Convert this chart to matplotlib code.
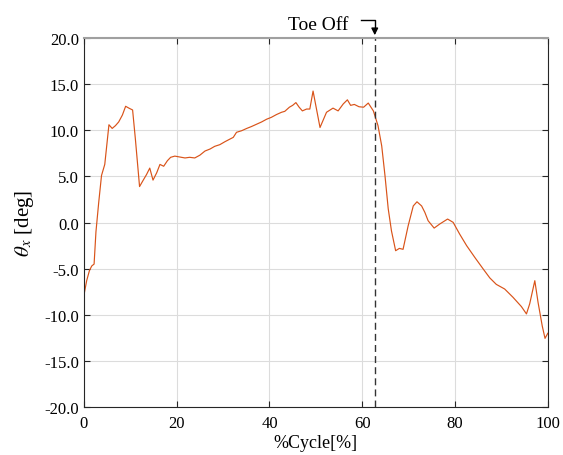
import matplotlib
matplotlib.use('Agg')
import matplotlib.pyplot as plt
import numpy as np

plt.rcParams['font.family'] = ['Liberation Serif', 'DejaVu Serif']
plt.rcParams['mathtext.fontset'] = 'stix'

# gait cycle [%] and angle [deg]
cycle = [0.0, 0.6, 1.2, 1.7, 2.2, 2.6, 3.2, 3.8, 4.5, 5.4, 6.1, 6.8, 7.5, 8.3, 9.0, 9.7,
         10.5, 11.1, 12.0, 12.8, 13.5, 14.2, 14.9, 15.7, 16.4, 17.2, 18.0, 18.7, 19.6,
         20.7, 21.8, 22.8, 23.9, 25.0, 26.1, 27.2, 28.2, 29.3, 30.4, 31.5, 32.2, 32.9,
         34.0, 35.1, 36.1, 37.2, 38.3, 39.4, 40.4, 41.5, 42.6, 43.3, 44.3, 45.0, 45.7,
         46.4, 47.1, 48.0, 48.7, 49.4, 50.9, 52.3, 53.7, 54.8, 55.9, 56.8, 57.5, 58.3,
         59.3, 60.3, 61.3, 62.4, 63.4, 64.2, 64.9, 65.6, 66.3, 67.2, 68.0, 68.8, 69.9,
         71.0, 71.8, 72.8, 73.5, 74.2, 75.5, 76.7, 78.4, 79.6, 81.0, 82.5, 84.3, 86.1,
         87.5, 88.9, 90.7, 92.5, 94.3, 95.4, 96.1, 97.2, 97.9, 98.8, 99.4, 100.0]
theta_x = [-7.9, -6.3, -5.2, -4.7, -4.5, -1.0, 2.2, 5.1, 6.3, 10.6, 10.2, 10.5, 10.9, 11.65, 12.6, 12.4,
           12.2, 9.05, 3.9, 4.6, 5.2, 5.9, 4.6, 5.4, 6.3, 6.1, 6.7, 7.07, 7.2,
           7.1, 7.0, 7.07, 7.0, 7.3, 7.75, 7.97, 8.26, 8.44, 8.76, 9.05, 9.23, 9.78,
           9.95, 10.2, 10.4, 10.65, 10.9, 11.2, 11.4, 11.7, 11.95, 12.05, 12.5, 12.7, 13.0,
           12.5, 12.1, 12.3, 12.3, 14.25, 10.3, 11.95, 12.4, 12.1, 12.85, 13.3, 12.7, 12.8,
           12.55, 12.5, 12.95, 12.1, 10.5, 8.3, 5.1, 1.5, -0.9, -3.05, -2.8, -2.9, -0.35,
           1.8, 2.25, 1.8, 1.1, 0.2, -0.6, -0.16, 0.38, 0.02, -1.25, -2.5, -3.8, -5.05,
           -6.0, -6.7, -7.2, -8.1, -9.1, -9.9, -8.8, -6.3, -8.65, -11.2, -12.55, -12.0]
toe_off = 62.7
x_ticks = [0, 20, 40, 60, 80, 100]
y_ticks = np.arange(-20, 20.1, 5)

fig = plt.figure(figsize=(5.63, 4.56), dpi=100)
ax = fig.add_axes([0.149, 0.105, 0.824, 0.8095])

ax.plot(cycle, theta_x, '-', color='#D95319', lw=0.85)
ax.axvline(toe_off, color='#333333', lw=1.0, ls=(0, (5, 3)))

ax.set_xlim(0, 100)
ax.set_ylim(-20, 20)
ax.set_xticks(x_ticks)
ax.set_yticks(y_ticks)
ax.set_yticklabels(['%.1f' % v for v in y_ticks])
ax.grid(color='#dcdcdc', lw=0.8)
ax.set_axisbelow(True)
ax.tick_params(direction='in', length=4, labelsize=12, color='#262626',
               top=True, right=True)
ax.tick_params(axis='x', pad=6)

for s in ['left', 'right', 'bottom']:
    ax.spines[s].set_color('#262626')
ax.spines['top'].set_color('#a0a0a0')
ax.spines['top'].set_linewidth(1.5)

ax.set_xlabel('%Cycle[%]', fontsize=13, labelpad=2)
ax.set_ylabel(r'$\theta_x$ [deg]', fontsize=15, labelpad=6)

# Toe Off marker above the axes
ax.text(toe_off - 5.6, 20.55, 'Toe Off', fontsize=14, ha='right', va='bottom')
ax.plot([toe_off - 2.9, toe_off, toe_off], [22.0, 22.0, 20.9], color='black', lw=1.0, clip_on=False)
ax.annotate('', xy=(toe_off, 20.0), xytext=(toe_off, 21.0),
            arrowprops=dict(arrowstyle='-|>', color='black', lw=1.0, mutation_scale=10),
            annotation_clip=False)

fig.savefig('out.png', dpi=100)
